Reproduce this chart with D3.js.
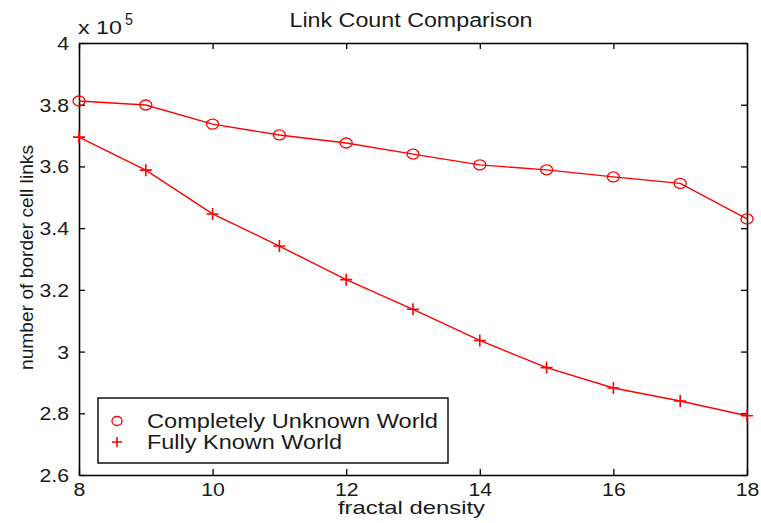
<!DOCTYPE html>
<html><head><meta charset="utf-8">
<script src="https://cdn.jsdelivr.net/npm/d3@7"></script>
<style>
html,body{margin:0;padding:0;background:#fff;}
svg{display:block;font-family:"Liberation Sans",Arial,Helvetica,sans-serif;}
</style></head>
<body>
<svg id="chart" width="761" height="523"></svg>
<script>
const density = [8, 9, 10, 11, 12, 13, 14, 15, 16, 17, 18];
const unknownWorld = [3.812, 3.799, 3.737, 3.702, 3.676, 3.640, 3.605, 3.589, 3.566, 3.545, 3.430];
const knownWorld = [3.695, 3.588, 3.446, 3.342, 3.233, 3.137, 3.036, 2.948, 2.882, 2.840, 2.792];
const xTicks = [8, 10, 12, 14, 16, 18];
const yTicks = [2.6, 2.8, 3.0, 3.2, 3.4, 3.6, 3.8, 4.0];
const seriesNames = ["Completely Unknown World", "Fully Known World"];

const svg = d3.select("#chart");
const L = 79, R = 747, T = 43, B = 475;
const x = d3.scaleLinear().domain([8, 18]).range([L, R]);
const y = d3.scaleLinear().domain([2.6, 4.0]).range([B, T]);
const fmt = d => (Math.abs(d - Math.round(d)) < 1e-9 ? d3.format("d")(d) : d3.format(".1f")(d));
const ink = "#1a1a1a";

function styleAxis(g) {
  g.selectAll("path.domain").attr("stroke", "#000").attr("stroke-width", 1.6);
  g.selectAll(".tick line").attr("stroke", "#000").attr("stroke-width", 1.3);
}
// bottom
svg.append("g").attr("transform", `translate(0,${B})`)
  .call(d3.axisBottom(x).tickValues(xTicks).tickSizeInner(-6).tickSizeOuter(0).tickFormat(fmt))
  .call(styleAxis)
  .call(g => g.selectAll(".tick text").attr("y", 21.5).attr("dy", null)
    .attr("fill", ink).style("font-size", "19px").attr("transform", "scale(1.12,1)"));
// top
svg.append("g").attr("transform", `translate(0,${T})`)
  .call(d3.axisTop(x).tickValues(xTicks).tickSizeInner(-6).tickSizeOuter(0).tickFormat(""))
  .call(styleAxis);
// left
svg.append("g").attr("transform", `translate(${L},0)`)
  .call(d3.axisLeft(y).tickValues(yTicks).tickSizeInner(-6).tickSizeOuter(0).tickFormat(fmt))
  .call(styleAxis)
  .call(g => g.selectAll(".tick text").attr("x", -8.5).attr("dy", "0.36em")
    .attr("fill", ink).style("font-size", "18px").attr("transform", "scale(1.18,1)"));
// right
svg.append("g").attr("transform", `translate(${R},0)`)
  .call(d3.axisRight(y).tickValues(yTicks).tickSizeInner(-6).tickSizeOuter(0).tickFormat(""))
  .call(styleAxis);

// exponent label
svg.append("text").attr("x", 78).attr("y", 34).attr("fill", ink).style("font-size", "19px")
  .attr("textLength", 44).attr("lengthAdjust", "spacingAndGlyphs").text("x 10");
svg.append("text").attr("x", 125).attr("y", 25).attr("fill", ink).style("font-size", "16px")
  .attr("textLength", 8).attr("lengthAdjust", "spacingAndGlyphs").text("5");

// title and labels
svg.append("text").attr("x", 411).attr("y", 27).attr("text-anchor", "middle")
  .attr("fill", ink).style("font-size", "20px")
  .attr("textLength", 243).attr("lengthAdjust", "spacingAndGlyphs").text("Link Count Comparison");
svg.append("text").attr("x", 411.5).attr("y", 514).attr("text-anchor", "middle")
  .attr("fill", ink).style("font-size", "19px")
  .attr("textLength", 147).attr("lengthAdjust", "spacingAndGlyphs").text("fractal density");
svg.append("text").attr("transform", `translate(33,257.5) rotate(-90)`)
  .attr("text-anchor", "middle").attr("fill", ink).style("font-size", "19px")
  .attr("textLength", 225).attr("lengthAdjust", "spacingAndGlyphs")
  .text("number of border cell links");

const red = "#ff0000";
const line = d3.line().x((d, i) => x(density[i])).y(d => y(d));
svg.append("path").datum(unknownWorld).attr("d", line).attr("fill", "none").attr("stroke", red).attr("stroke-width", 1.4);
svg.append("path").datum(knownWorld).attr("d", line).attr("fill", "none").attr("stroke", red).attr("stroke-width", 1.4);

svg.append("g").selectAll("ellipse").data(unknownWorld).join("ellipse")
  .attr("cx", (d, i) => x(density[i])).attr("cy", d => y(d)).attr("rx", 6).attr("ry", 5)
  .attr("fill", "none").attr("stroke", red).attr("stroke-width", 1.3);
const plus = (g, cx, cy, s) => g.append("path")
  .attr("d", `M${cx - s},${cy}H${cx + s}M${cx},${cy - s}V${cy + s}`)
  .attr("stroke", red).attr("stroke-width", 1.6).attr("fill", "none");
const pg = svg.append("g");
knownWorld.forEach((d, i) => plus(pg, x(density[i]), y(d), 6));

// legend
const lg = svg.append("g");
lg.append("rect").attr("x", 98).attr("y", 398).attr("width", 350).attr("height", 65)
  .attr("fill", "#fff").attr("stroke", "#000").attr("stroke-width", 1.4);
lg.append("ellipse").attr("cx", 117).attr("cy", 421).attr("rx", 5).attr("ry", 4.5)
  .attr("fill", "none").attr("stroke", red).attr("stroke-width", 1.3);
plus(lg, 117, 442, 5);
const legendWidths = [291, 195];
lg.selectAll("text").data(seriesNames).join("text")
  .attr("x", 147).attr("y", (d, i) => 428 + i * 21).attr("fill", ink).style("font-size", "20px")
  .attr("textLength", (d, i) => legendWidths[i]).attr("lengthAdjust", "spacingAndGlyphs")
  .text(d => d);
</script>
</body></html>
